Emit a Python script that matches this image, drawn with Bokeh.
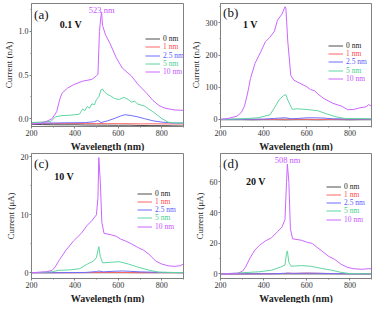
from bokeh.plotting import figure
from bokeh.layouts import gridplot
from bokeh.models import (Range1d, SingleIntervalTicker, NumeralTickFormatter,
                          Legend, LegendItem, Label, Title)
from bokeh.embed import file_html
from bokeh.resources import INLINE

SERIES = ["0 nm", "1 nm", "2.5 nm", "5 nm", "10 nm"]
COLORS = ["#4d4d4d", "#ff6666", "#6f6fff", "#5fd6a0", "#cc66ff"]
LABEL_COLORS = ["#222222", "#ff4d4d", "#5a5aff", "#3fcf8a", "#c455ff"]

# ---------------- panel (a) 0.1 V, current in nA ----------------
a_wl_flat = [200, 250, 300, 350, 400, 450, 500, 550, 600, 650, 700, 750, 800, 850, 900]
a_0nm = [-0.065, -0.068, -0.070, -0.071, -0.070, -0.073, -0.074, -0.075, -0.076,
         -0.075, -0.078, -0.080, -0.080, -0.082, -0.085]
a_1nm = [-0.052, -0.054, -0.055, -0.056, -0.055, -0.057, -0.056, -0.058, -0.057,
         -0.058, -0.060, -0.059, -0.060, -0.061, -0.062]
a_wl_25 = [200, 250, 300, 350, 400, 450, 490, 505, 520, 550, 580, 610, 630, 660,
           690, 720, 760, 800, 850, 900]
a_25nm = [-0.048, -0.050, -0.050, -0.048, -0.047, -0.045, -0.035, -0.020, -0.045,
          -0.025, 0.000, 0.030, 0.045, 0.035, 0.020, 0.000, -0.025, -0.040, -0.050, -0.050]
a_wl_5 = [200, 240, 290, 310, 340, 380, 420, 436, 445, 457, 467, 478, 490, 499, 510,
          520, 527, 535, 548, 565, 583, 605, 625, 645, 660, 675, 688, 700, 724, 740,
          759, 780, 801, 829, 860, 900]
a_5nm = [-0.045, -0.040, -0.030, 0.020, 0.035, 0.040, 0.050, 0.110, 0.090, 0.140,
         0.120, 0.170, 0.160, 0.220, 0.250, 0.330, 0.340, 0.310, 0.280, 0.260, 0.230,
         0.220, 0.245, 0.220, 0.190, 0.200, 0.170, 0.160, 0.140, 0.110, 0.080, 0.040,
         0.000, -0.040, -0.050, -0.050]
a_wl_10 = [200, 240, 270, 295, 316, 330, 340, 366, 394, 436, 478, 499, 506, 513, 520,
           523, 527, 541, 562, 590, 618, 660, 688, 731, 759, 787, 815, 857, 900]
a_10nm = [-0.060, -0.056, -0.030, 0.000, 0.080, 0.220, 0.290, 0.350, 0.390, 0.430,
          0.450, 0.490, 0.510, 1.000, 1.180, 1.220, 1.070, 0.960, 0.860, 0.700, 0.580,
          0.490, 0.400, 0.290, 0.210, 0.150, 0.120, 0.100, 0.095]

# ---------------- panel (b) 1 V, current in nA ----------------
b_wl_flat = [200, 250, 300, 350, 400, 450, 500, 550, 600, 650, 700, 750, 800, 850, 900]
b_0nm = [-1, -1, -1, -1.5, -1, -1, -1.5, -1, -1, -1.5, -1, -1, -1.5, -1, -1]
b_1nm = [0, 0, 0.5, 0, 0, 0.5, 1, 0.5, 0.5, 0, 0, 0.5, 0, 0, 0]
b_wl_25 = [200, 300, 400, 450, 470, 500, 530, 560, 600, 640, 680, 720, 800, 900]
b_25nm = [0, 0.5, 1, 3, 4, 5, 2, 3, 5, 5, 4, 2, 1, 1]
b_wl_5 = [200, 300, 374, 429, 450, 471, 492, 503, 512, 533, 554, 596, 651, 693, 735,
          776, 900]
b_5nm = [0, 2, 5, 14, 36, 60, 74, 77, 60, 31, 33, 31, 27, 17, 8, 3, 2]
b_wl_10 = [200, 235, 276, 297, 311, 325, 339, 360, 388, 408, 429, 450, 464, 485, 499,
           503, 512, 526, 540, 568, 596, 617, 637, 651, 679, 721, 762, 790, 818, 846,
           874, 887, 900]
b_10nm = [0, 3, 10, 22, 41, 79, 127, 174, 212, 241, 255, 274, 308, 327, 350, 346, 241,
          136, 122, 112, 103, 93, 89, 79, 65, 50, 41, 30, 31, 36, 39, 46, 41]

# ---------------- panel (c) 10 V, current in uA ----------------
c_wl_flat = [200, 300, 400, 500, 600, 700, 800, 900]
c_0nm = [0, 0, 0, 0, 0, 0, 0, 0]
c_1nm = [0, 0, 0, 0.05, 0.05, 0, 0, 0]
c_wl_25 = [200, 300, 450, 500, 510, 530, 580, 620, 650, 700, 800, 900]
c_25nm = [0, 0, 0.05, 0.2, 0.3, 0.15, 0.25, 0.3, 0.25, 0.15, 0.05, 0]
c_wl_5 = [200, 295, 323, 380, 422, 457, 485, 499, 510, 517, 527, 562, 604, 646, 688,
          744, 786, 900]
c_5nm = [0, 0.16, 0.4, 0.5, 0.7, 1.5, 2.0, 2.6, 4.5, 2.8, 1.7, 1.8, 1.9, 1.5, 1.0,
         0.4, 0.1, 0]
c_wl_10 = [200, 267, 295, 309, 330, 359, 394, 429, 457, 478, 499, 506, 510, 517, 524,
           534, 562, 590, 611, 632, 660, 688, 716, 744, 772, 800, 829, 857, 885, 900]
c_10nm = [0, 0.16, 0.4, 1.0, 2.3, 3.9, 5.5, 6.8, 8.2, 9.0, 10.0, 13.0, 19.9, 15.6, 8.7,
          6.8, 6.6, 6.3, 5.8, 5.5, 5.0, 4.4, 3.9, 3.1, 2.0, 1.5, 1.2, 1.1, 1.2, 1.5]

# ---------------- panel (d) 20 V, current in uA ----------------
d_wl_flat = [200, 300, 400, 500, 600, 700, 800, 900]
d_0nm = [0, 0, 0, 0, 0, 0, 0, 0]
d_1nm = [0, 0, 0.1, 0.3, 0.5, 0.3, 0.1, 0]
d_wl_25 = [200, 300, 450, 500, 510, 540, 600, 650, 700, 800, 900]
d_25nm = [0, 0, 0.1, 0.4, 0.6, 0.3, 0.5, 0.4, 0.2, 0.05, 0]
d_wl_5 = [200, 309, 380, 436, 478, 499, 506, 510, 517, 527, 576, 618, 674, 716, 758,
          800, 900]
d_5nm = [0, 0.8, 1.4, 2.4, 4.4, 5.8, 13.4, 15.0, 7.4, 5.0, 5.4, 5.0, 3.4, 2.4, 1.0,
         0.2, 0]
d_wl_10 = [200, 281, 302, 316, 337, 359, 380, 408, 436, 464, 485, 499, 506, 510, 517,
           524, 534, 576, 604, 625, 646, 674, 702, 730, 758, 786, 815, 857, 885, 900]
d_10nm = [0, 0.4, 1.8, 4.4, 10.4, 15.5, 18.5, 21.5, 23.5, 27.5, 30.5, 35.5, 59.6, 71.7,
          59.6, 29.5, 22.9, 21.9, 20.5, 19.9, 17.5, 14.5, 11.4, 9.4, 6.4, 4.4, 3.4, 3.0,
          3.4, 3.4]

SERIF = "Liberation Serif"
BOTTOM_EST = 27   # estimated height of x axis + its title


def make_panel(wls, ys, yrange, y_step, y_fmt, y_title, width, height, borders,
               tag, tag_xy, volt, volt_xy, peak, peak_xy, leg_dx, leg_frac):
    left, right, top, bottom = borders
    fh = height - top - BOTTOM_EST
    p = figure(width=width, height=height, output_backend="svg",
               toolbar_location=None, x_range=Range1d(200, 900),
               y_range=Range1d(*yrange), min_border_left=left,
               min_border_right=right, min_border_top=top,
               min_border_bottom=bottom)
    p.xgrid.visible = False
    p.ygrid.visible = False
    p.outline_line_color = "#808080"
    p.outline_line_width = 1
    p.background_fill_color = "white"
    p.border_fill_color = "white"

    p.xaxis.ticker = SingleIntervalTicker(interval=200, num_minor_ticks=2)
    p.yaxis.ticker = SingleIntervalTicker(interval=y_step, num_minor_ticks=2)
    if y_fmt:
        p.yaxis.formatter = NumeralTickFormatter(format=y_fmt)
    for ax in (p.xaxis[0], p.yaxis[0]):
        ax.axis_line_color = "#808080"
        ax.major_tick_line_color = "#808080"
        ax.minor_tick_line_color = "#808080"
        ax.major_tick_out = 2
        ax.major_tick_in = 0
        ax.minor_tick_out = 1
        ax.minor_tick_in = 0
        ax.major_label_text_font = SERIF
        ax.major_label_text_font_size = "8px"
        ax.major_label_text_color = "#333333"
        ax.major_label_text_line_height = 1.0
        ax.major_label_standoff = 1
    p.yaxis.axis_label = y_title
    p.yaxis.axis_label_text_font = SERIF
    p.yaxis.axis_label_text_color = "#222222"
    p.yaxis.axis_label_text_line_height = 1.0
    p.yaxis.axis_label_standoff = 2
    p.yaxis.axis_label_text_font_size = "9px"
    p.yaxis.axis_label_text_font_style = "normal"

    p.add_layout(Title(text="Wavelength (nm)", align="center", standoff=0,
                       text_font=SERIF, text_font_size="10px",
                       text_font_style="bold", text_color="#222222",
                       text_line_height=1.0), "below")

    renderers = []
    for (wl, y), c in zip(zip(wls, ys), COLORS):
        r = p.line(wl, y, line_color=c, line_width=1)
        renderers.append(r)

    step = fh * 0.067
    for i, (name, r) in enumerate(zip(SERIES, renderers)):
        leg = Legend(items=[LegendItem(label=name, renderers=[r])],
                     location=(leg_dx, fh * leg_frac - i * step - 4.5),
                     orientation="vertical", padding=0, margin=0, spacing=0,
                     border_line_alpha=0, background_fill_alpha=0,
                     glyph_width=15, glyph_height=9, label_height=9,
                     label_standoff=3, label_text_font=SERIF,
                     label_text_font_size="7.5px", label_text_line_height=1.0,
                     label_text_color=LABEL_COLORS[i])
        p.add_layout(leg)

    p.add_layout(Label(x=tag_xy[0], y=tag_xy[1], text=tag, text_font=SERIF,
                       text_font_size="13px", text_color="#111111",
                       text_baseline="middle", text_align="left"))
    p.add_layout(Label(x=volt_xy[0], y=volt_xy[1], text=volt, text_font=SERIF,
                       text_font_size="10px", text_font_style="bold",
                       text_color="#111111", text_baseline="middle",
                       text_align="left"))
    if peak:
        p.add_layout(Label(x=peak_xy[0], y=peak_xy[1], text=peak, text_font=SERIF,
                           text_font_size="8.5px", text_color="#c455ff",
                           text_baseline="middle", text_align="center"))
    return p


pa = make_panel([a_wl_flat, a_wl_flat, a_wl_25, a_wl_5, a_wl_10],
                [a_0nm, a_1nm, a_25nm, a_5nm, a_10nm],
                (-0.09, 1.32), 0.5, "0.0", "Current (nA)", 187, 151,
                (23, 4, 3, 21), "(a)", (212, 1.19), "0.1 V", (330, 1.08),
                "523 nm", (523, 1.245), 114, 0.72)
pb = make_panel([b_wl_flat, b_wl_flat, b_wl_25, b_wl_5, b_wl_10],
                [b_0nm, b_1nm, b_25nm, b_5nm, b_10nm],
                (-22, 360), 100, None, "Current (nA)", 187, 151,
                (24, 2, 2, 22), "(b)", (212, 331), "1 V", (304, 294),
                None, None, 108, 0.66)
pc = make_panel([c_wl_flat, c_wl_flat, c_wl_25, c_wl_5, c_wl_10],
                [c_0nm, c_1nm, c_25nm, c_5nm, c_10nm],
                (-1.0, 20.6), 10, None, "Current (\u03bcA)", 187, 152,
                (21, 4, 2, 21), "(c)", (212, 18.9), "10 V", (305, 16.6),
                None, None, 106, 0.69)
pd_ = make_panel([d_wl_flat, d_wl_flat, d_wl_25, d_wl_5, d_wl_10],
                 [d_0nm, d_1nm, d_25nm, d_5nm, d_10nm],
                 (-3.0, 78.5), 20, None, "Current (\u03bcA)", 187, 152,
                 (23, 3, 2, 21), "(d)", (212, 71.9), "20 V", (318, 60.4),
                 "508 nm", (511, 74.3), 106, 0.747)

grid = gridplot([[pa, pb], [pc, pd_]], toolbar_location=None)

open("out.html", "w").write(file_html(grid, INLINE))
